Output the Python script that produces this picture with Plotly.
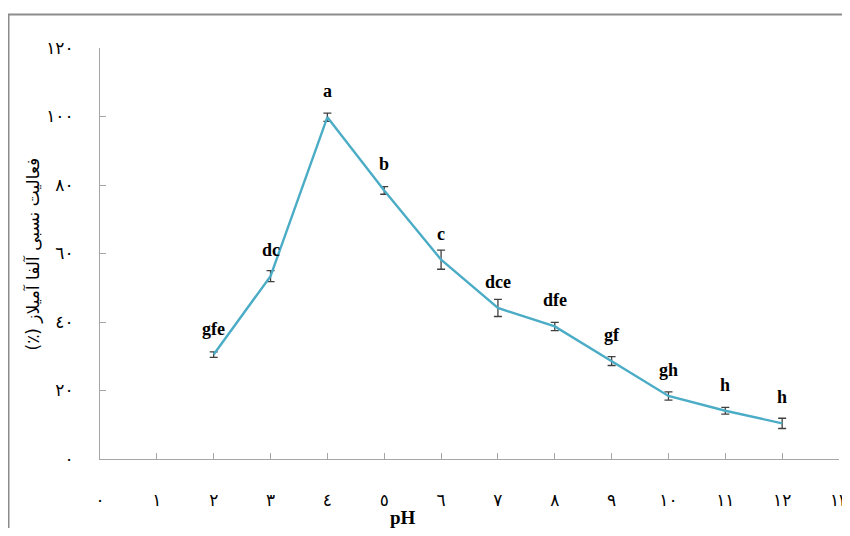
import plotly.graph_objects as go

ph = [2, 3, 4, 5, 6, 7, 8, 9, 10, 11, 12]
activity = [30.5, 53.4, 99.8, 78.4, 58.2, 44.1, 38.7, 28.6, 18.4, 14.1, 10.4]
error = [0.8, 1.6, 1.2, 1.1, 2.8, 2.5, 1.2, 1.3, 1.2, 1.0, 1.5]
letters = ["gfe", "dc", "a", "b", "c", "dce", "dfe", "gf", "gh", "h", "h"]

x_tickvals = list(range(0, 14))
x_ticktext = ["٠", "١", "٢", "٣", "٤", "٥", "٦", "٧", "٨", "٩", "١٠", "١١", "١٢", "١٣"]
y_tickvals = [0, 20, 40, 60, 80, 100, 120]
y_ticktext = ["٠", "٢٠", "٤٠", "٦٠", "٨٠", "١٠٠", "١٢٠"]

x_title = "pH"
y_title = "\u200fفعالیت نسبی آلفا آمیلاز (٪)\u200f"

axis_color = "#A6A6A6"
line_color = "#4BACC6"

fig = go.Figure()
fig.add_trace(go.Scatter(
    x=ph, y=activity, mode="lines",
    line=dict(color=line_color, width=2.4),
    error_y=dict(type="data", array=error, visible=True,
                 color="#404040", thickness=1.3, width=4),
    showlegend=False, hoverinfo="x+y",
))

for xv, yv, lab in zip(ph, activity, letters):
    fig.add_annotation(x=xv, y=yv, text=f"<b>{lab}</b>", showarrow=False,
                       xanchor="center", yanchor="middle", yshift=26,
                       font=dict(family="Liberation Serif", size=18, color="black"))

fig.add_annotation(x=0.41, y=-0.143, xref="paper", yref="paper",
                   text=f"<b>{x_title}</b>", showarrow=False,
                   xanchor="center", yanchor="middle",
                   font=dict(family="Liberation Serif", size=19, color="black"))

fig.add_annotation(x=-0.0907, y=0.5, xref="paper", yref="paper",
                   text=y_title, showarrow=False, textangle=-90,
                   xanchor="center", yanchor="middle",
                   font=dict(family="DejaVu Sans", size=17, color="black"))

fig.add_shape(type="rect", xref="paper", yref="paper",
              x0=-0.1238, x1=1.2, y0=-0.4, y1=1.0815,
              line=dict(color="#8C8C8C", width=2), layer="above")

fig.update_layout(
    width=850, height=520,
    margin=dict(l=92, r=19, t=40, b=69),
    paper_bgcolor="white", plot_bgcolor="white",
    font=dict(family="DejaVu Sans", size=16, color="black"),
    xaxis=dict(range=[0, 13], tickmode="array", tickvals=x_tickvals, ticktext=x_ticktext,
               showgrid=False, zeroline=False, showline=True, linecolor=axis_color, linewidth=1,
               ticks="inside", ticklen=6, tickcolor=axis_color, ticklabelstandoff=26,
               automargin=False, ticklabeloverflow="allow",
               tickfont=dict(family="DejaVu Sans", size=17, color="black")),
    yaxis=dict(range=[0, 120], tickmode="array", tickvals=y_tickvals, ticktext=y_ticktext,
               showgrid=False, zeroline=False, showline=True, linecolor=axis_color, linewidth=1,
               ticks="inside", ticklen=6, tickcolor=axis_color, ticklabelstandoff=22,
               automargin=False,
               tickfont=dict(family="DejaVu Sans", size=17, color="black")),
)

fig.write_html("out.html")
